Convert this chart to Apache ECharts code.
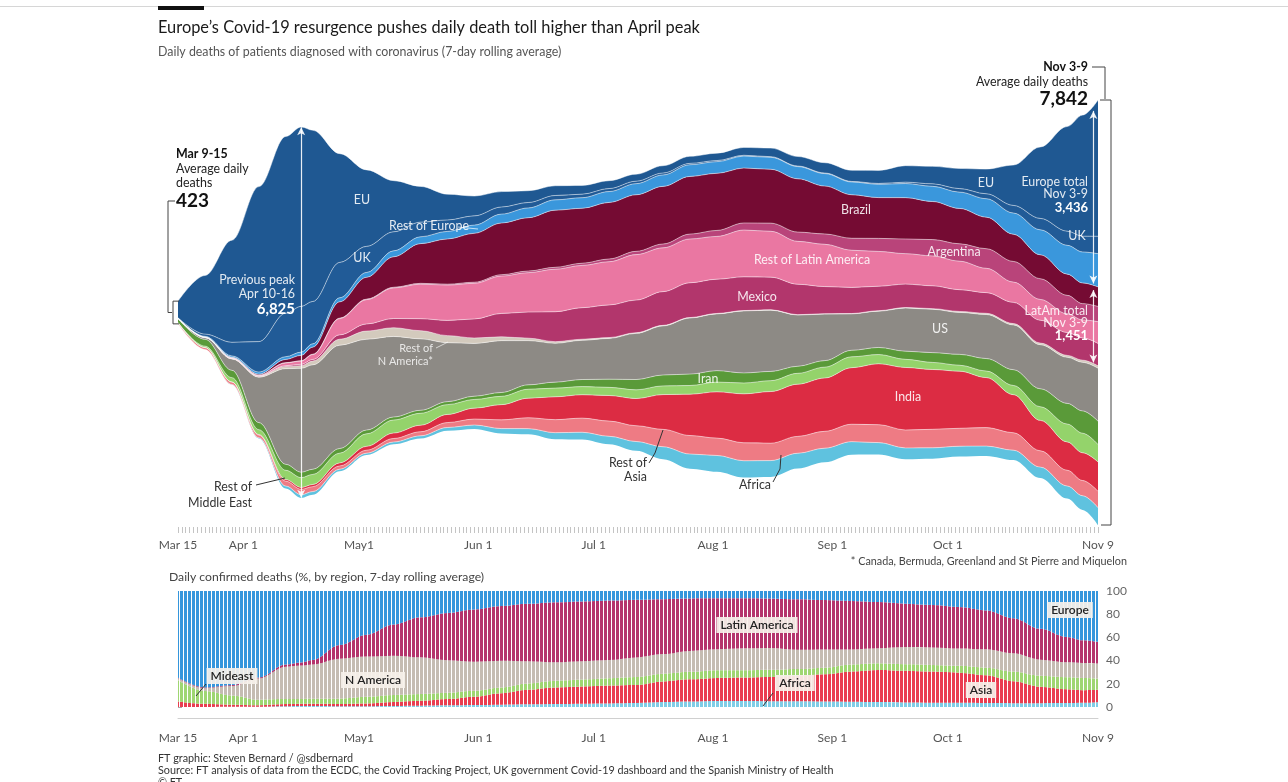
<!DOCTYPE html>
<html>
<head>
<meta charset="utf-8">
<title>Europe's Covid-19 resurgence</title>
<script src="https://cdn.jsdelivr.net/npm/echarts@6.0.0/dist/echarts.min.js"></script>
<style>
  html, body { margin: 0; padding: 0; background: #fff; }
  #chart { width: 1288px; height: 782px; }
</style>
</head>
<body>
<div id="chart"></div>
<script>
// weekly samples of the 7-day average of daily deaths
const dates = ['2020-03-15', '2020-03-22', '2020-03-29', '2020-04-05', '2020-04-12', '2020-04-16', '2020-04-19', '2020-04-26',
  '2020-05-03', '2020-05-10', '2020-05-17', '2020-05-24', '2020-05-31', '2020-06-07', '2020-06-14', '2020-06-21', '2020-06-28',
  '2020-07-05', '2020-07-12', '2020-07-19', '2020-07-26', '2020-08-02', '2020-08-09', '2020-08-16', '2020-08-23', '2020-08-30',
  '2020-09-06', '2020-09-13', '2020-09-20', '2020-09-27', '2020-10-04', '2020-10-11', '2020-10-18', '2020-10-25', '2020-11-01',
  '2020-11-05', '2020-11-09']

const eu = [305, 1078, 1877, 2850, 3250, 3300, 3150, 2000, 1406, 941, 657, 474, 365, 284, 217, 180, 160, 145, 130, 135, 130, 135, 145, 158, 175, 190, 205, 240, 304, 322, 371, 454, 742, 1313, 1926, 2227, 2506]
const uk = [3, 40, 250, 560, 800, 840, 780, 650, 480, 350, 270, 210, 170, 130, 100, 80, 65, 55, 45, 35, 25, 20, 15, 12, 10, 10, 10, 15, 25, 45, 65, 90, 140, 210, 260, 290, 320]
const restEurope = [5, 15, 25, 40, 50, 60, 60, 75, 90, 110, 125, 140, 150, 165, 180, 190, 195, 200, 205, 210, 215, 215, 220, 220, 225, 230, 235, 245, 260, 280, 300, 340, 390, 460, 530, 570, 610]
const brazil = [0, 2, 10, 20, 60, 100, 130, 300, 400, 560, 730, 830, 900, 950, 980, 1050, 1010, 1040, 1040, 1060, 1060, 1050, 1010, 990, 980, 880, 800, 750, 760, 700, 650, 580, 500, 440, 390, 380, 360]
const argentina = [0, 0, 1, 2, 4, 5, 6, 8, 10, 12, 15, 17, 20, 25, 30, 35, 40, 50, 60, 70, 90, 110, 130, 150, 170, 190, 220, 240, 270, 300, 320, 360, 380, 380, 340, 300, 280]
const restLatam = [1, 4, 13, 12, 51, 60, 90, 300, 448, 562, 636, 650, 656, 687, 725, 783, 778, 796, 836, 806, 806, 787, 861, 844, 789, 778, 684, 640, 560, 550, 524, 448, 373, 383, 344, 330, 401]
const mexico = [0, 1, 3, 6, 15, 25, 30, 80, 130, 170, 220, 280, 350, 430, 480, 550, 580, 600, 600, 620, 640, 630, 620, 600, 560, 500, 480, 450, 430, 420, 400, 380, 390, 420, 420, 410, 410]
const restNAmerica = [0, 1, 5, 15, 40, 50, 70, 110, 150, 160, 150, 130, 100, 70, 45, 30, 20, 15, 12, 10, 8, 8, 6, 6, 6, 6, 6, 8, 10, 12, 18, 22, 25, 30, 35, 40, 45]
const us = [8, 33, 208, 835, 1760, 1910, 1920, 1900, 1670, 1482, 1314, 1084, 970, 954, 814, 714, 721, 750, 849, 903, 1031, 1044, 1141, 1127, 942, 856, 670, 668, 793, 797, 771, 810, 823, 811, 848, 893, 974]
const iran = [70, 125, 135, 130, 110, 100, 95, 85, 70, 55, 55, 55, 60, 70, 80, 110, 130, 150, 190, 200, 210, 210, 185, 170, 130, 120, 120, 130, 150, 180, 200, 230, 290, 330, 380, 410, 430]
const restMidEast = [6, 25, 78, 90, 170, 180, 185, 180, 230, 240, 220, 180, 160, 153, 165, 160, 150, 150, 160, 160, 160, 180, 200, 200, 200, 200, 200, 170, 150, 130, 110, 120, 170, 250, 330, 360, 320]
const india = [0, 2, 4, 10, 30, 35, 40, 55, 70, 100, 120, 150, 200, 280, 360, 420, 430, 470, 500, 640, 760, 850, 900, 950, 960, 980, 1040, 1120, 1150, 1100, 1050, 920, 700, 560, 520, 510, 540]
const restAsia = [20, 35, 44, 50, 90, 100, 90, 60, 55, 65, 75, 90, 110, 160, 200, 240, 260, 280, 290, 320, 340, 320, 330, 320, 310, 310, 320, 330, 330, 340, 330, 340, 320, 300, 290, 280, 300]
const africa = [0, 0, 5, 10, 45, 60, 60, 40, 36, 43, 50, 61, 73, 89, 104, 121, 134, 148, 172, 230, 270, 300, 310, 300, 280, 260, 240, 220, 210, 200, 190, 180, 180, 200, 230, 260, 320]

// axis labels
const tickDates = ['2020-03-15', '2020-04-01', '2020-05-01', '2020-06-01', '2020-07-01', '2020-08-01', '2020-09-01', '2020-10-01', '2020-11-09']
const tickLabels = ['Mar 15', 'Apr 1', 'May1', 'Jun 1', 'Jul 1', 'Aug 1', 'Sep 1', 'Oct 1', 'Nov 9']
const pctTicks = [0, 20, 40, 60, 80, 100]

const font = 'Lato, "Noto Sans", sans-serif'
const DAY = 864e5
const ts = dates.map(s => Date.parse(s))
const firstTs = ts[0]
const lastTs = Date.parse(tickDates[tickDates.length - 1])
const dayOf = s => Math.round((Date.parse(s) - firstTs) / DAY)
const lastDay = dayOf(tickDates[tickDates.length - 1])
const tickDays = tickDates.map(dayOf)
const allDays = []
for (let d = 0; d <= lastDay; d++) allDays.push(d)

// stream layers, bottom to top
const layers = [
  { name: 'Africa', data: africa, color: '#5fc2df' },
  { name: 'Rest of Asia', data: restAsia, color: '#ee7b84' },
  { name: 'India', data: india, color: '#dc2c43' },
  { name: 'Rest of Middle East', data: restMidEast, color: '#94d36b' },
  { name: 'Iran', data: iran, color: '#5a9a39' },
  { name: 'US', data: us, color: '#8d8a85' },
  { name: 'Rest of N America', data: restNAmerica, color: '#d3cabd' },
  { name: 'Mexico', data: mexico, color: '#b2366c' },
  { name: 'Rest of Latin America', data: restLatam, color: '#ea77a2' },
  { name: 'Argentina', data: argentina, color: '#b9447a' },
  { name: 'Brazil', data: brazil, color: '#750b33' },
  { name: 'Rest of Europe', data: restEurope, color: '#3a97dc' },
  { name: 'UK', data: uk, color: '#215b97' },
  { name: 'EU', data: eu, color: '#1f5892' }
]

// regions for the percentage chart, bottom to top
const regions = [
  { name: 'Africa', parts: [africa], color: '#7fcde6' },
  { name: 'Asia', parts: [india, restAsia], color: '#ea3d50' },
  { name: 'Mideast', parts: [iran, restMidEast], color: '#9fd672' },
  { name: 'N America', parts: [us, restNAmerica], color: '#c5bcb2' },
  { name: 'Latin America', parts: [mexico, restLatam, argentina, brazil], color: '#b5346c' },
  { name: 'Europe', parts: [restEurope, uk, eu], color: '#3596dc' }
]

const total = dates.map((d, i) => layers.reduce((s, l) => s + l.data[i], 0))
const maxTotal = Math.max(...total)
// centre the stream (silhouette baseline)
const baseline = total.map(t => (maxTotal - t) / 2)

const iPeak = dates.indexOf('2020-04-16')
const iLast = dates.length - 1
const europeLast = eu[iLast] + uk[iLast] + restEurope[iLast]
const latamLast = brazil[iLast] + argentina[iLast] + restLatam[iLast] + mexico[iLast]

function stripes (color) {
  const c = document.createElement('canvas')
  c.width = 4
  c.height = 4
  const g = c.getContext('2d')
  g.fillStyle = '#fff'
  g.fillRect(0, 0, 4, 4)
  g.fillStyle = color
  g.fillRect(0, 0, 3, 4)
  return { image: c, repeat: 'repeat' }
}

const series = [{
  name: 'base',
  type: 'line',
  stack: 'stream',
  xAxisIndex: 0,
  yAxisIndex: 0,
  data: baseline.map((v, i) => [ts[i], v]),
  symbol: 'none',
  smooth: 0.35,
  smoothMonotone: 'x',
  lineStyle: { width: 0, opacity: 0 },
  silent: true,
  z: 1
}]

layers.forEach(l => {
  series.push({
    name: l.name,
    type: 'line',
    stack: 'stream',
    xAxisIndex: 0,
    yAxisIndex: 0,
    data: l.data.map((v, i) => [ts[i], v]),
    symbol: 'none',
    smooth: 0.35,
    smoothMonotone: 'x',
    lineStyle: { color: 'rgba(255,255,255,0.6)', width: 0.8 },
    areaStyle: { color: l.color, opacity: 1 },
    silent: true,
    z: 2
  })
})

// white arrows: April peak and the Nov 3-9 totals
const topSeries = series[series.length - 1]
const arrowTs = lastTs - 1.2 * DAY
topSeries.markLine = {
  silent: true,
  symbol: ['arrow', 'arrow'],
  symbolSize: [6, 8],
  label: { show: false },
  lineStyle: { color: '#ffffff', width: 1.2, type: 'solid', opacity: 0.9 },
  data: [
    [{ coord: [ts[iPeak], baseline[iPeak] + 5] }, { coord: [ts[iPeak], baseline[iPeak] + total[iPeak] - 5] }],
    [{ coord: [arrowTs, maxTotal - 200] }, { coord: [arrowTs, maxTotal - europeLast + 60] }],
    [{ coord: [arrowTs, maxTotal - europeLast - 60] }, { coord: [arrowTs, maxTotal - europeLast - latamLast + 60] }]
  ]
}

regions.forEach(r => {
  series.push({
    name: r.name,
    type: 'line',
    stack: 'share',
    xAxisIndex: 1,
    yAxisIndex: 1,
    data: dates.map((d, i) => [ts[i], r.parts.reduce((s, p) => s + p[i], 0) / total[i] * 100]),
    symbol: 'none',
    smooth: 0.35,
    smoothMonotone: 'x',
    lineStyle: { width: 0 },
    areaStyle: { color: stripes(r.color), opacity: 1 },
    silent: true
  })
})

const xLabel = {
  customValues: tickDays,
  formatter: v => tickLabels[tickDays.indexOf(+v)] || '',
  color: '#555',
  fontFamily: font,
  fontSize: 12,
  showMinLabel: true,
  showMaxLabel: true,
  hideOverlap: false
}

const option = {
  animation: false,
  backgroundColor: '#fff',
  grid: [
    { left: 178, right: 190, top: 100, height: 425, containLabel: false, outerBoundsMode: 'none' },
    { left: 178, right: 190, top: 591, height: 116, containLabel: false, outerBoundsMode: 'none' }
  ],
  xAxis: [
    // time axes carry the series, day axes draw ticks and labels
    { type: 'time', gridIndex: 0, position: 'bottom', min: firstTs, max: lastTs, show: false },
    { type: 'time', gridIndex: 1, position: 'bottom', min: firstTs, max: lastTs, show: false },
    {
      type: 'value',
      gridIndex: 0,
      position: 'bottom',
      min: 0,
      max: lastDay,
      offset: 2,
      axisLine: { show: false },
      axisTick: { show: true, customValues: allDays, length: 6, lineStyle: { color: '#c4c4c4', width: 1 } },
      splitLine: { show: false },
      axisLabel: Object.assign({ margin: 12 }, xLabel)
    },
    {
      type: 'value',
      gridIndex: 1,
      position: 'bottom',
      min: 0,
      max: lastDay,
      offset: 11,
      axisLine: { show: true, lineStyle: { color: '#d0d0d0', width: 1 } },
      axisTick: { show: false },
      splitLine: { show: false },
      axisLabel: Object.assign({ margin: 14 }, xLabel)
    }
  ],
  yAxis: [
    { type: 'value', gridIndex: 0, min: 0, max: maxTotal, show: false },
    {
      type: 'value',
      gridIndex: 1,
      position: 'right',
      min: 0,
      max: 100,
      interval: 20,
      offset: 2,
      axisLine: { show: false },
      axisTick: { show: true, length: 4, lineStyle: { color: '#aaa' } },
      splitLine: { show: false },
      axisLabel: { color: '#666', fontFamily: font, fontSize: 12, margin: 6, customValues: pctTicks }
    }
  ],
  series: series
}

const chart = echarts.init(document.getElementById('chart'), null, { renderer: 'canvas' })
chart.setOption(option)

// annotations
const px = (x, y) => chart.convertToPixel({ xAxisIndex: 0, yAxisIndex: 0 }, [x, y])

function txt (x, y, text, o) {
  return {
    type: 'text',
    x: x,
    y: y,
    silent: true,
    z: 100,
    style: Object.assign({
      text: text,
      fill: '#333',
      font: '12.4px ' + font,
      textAlign: 'left',
      textVerticalAlign: 'middle',
      verticalAlign: 'middle'
    }, o || {})
  }
}
function line (points, color, w) {
  return {
    type: 'polyline',
    silent: true,
    z: 100,
    shape: { points: points },
    style: { stroke: color || '#333', fill: null, lineWidth: w || 1 }
  }
}
function boxLabel (x, y, text) {
  return txt(x, y, text, {
    textAlign: 'center',
    fill: '#222',
    font: '600 12px ' + font,
    backgroundColor: 'rgba(246,241,234,0.92)',
    padding: [2, 4]
  })
}

const wt = 'rgba(255,255,255,0.88)'
const firstTop = px(firstTs, baseline[0] + total[0])
const firstBot = px(firstTs, baseline[0])
const lastTop = px(lastTs, maxTotal)
const lastBot = px(lastTs, 0)

const graphics = [
  // header
  { type: 'rect', silent: true, shape: { x: 0, y: 6, width: 1288, height: 1 }, style: { fill: '#d6d6d6' } },
  { type: 'rect', silent: true, shape: { x: 158, y: 6, width: 46, height: 4 }, style: { fill: '#111' } },
  txt(158, 28, 'Europe\u2019s Covid-19 resurgence pushes daily death toll higher than April peak', { font: '16.4px ' + font, fill: '#1a1a1a' }),
  txt(158, 52, 'Daily deaths of patients diagnosed with coronavirus (7-day rolling average)', { font: '12.4px ' + font, fill: '#555' }),

  // left note
  txt(176, 154, 'Mar 9-15', { font: 'bold 12.4px ' + font, fill: '#111' }),
  txt(176, 169, 'Average daily', { fill: '#222' }),
  txt(176, 183, 'deaths', { fill: '#222' }),
  txt(176, 201, '423', { font: 'bold 19px ' + font, fill: '#111' }),
  line([[175, 201], [168, 201], [168, (firstTop[1] + firstBot[1]) / 2], [172, (firstTop[1] + firstBot[1]) / 2]], '#444', 1),
  line([[179, firstTop[1]], [173, firstTop[1]], [173, firstBot[1]], [179, firstBot[1]]], '#444', 1),

  // right note
  txt(1088, 67, 'Nov 3-9', { font: 'bold 12.4px ' + font, fill: '#111', textAlign: 'right' }),
  txt(1088, 82, 'Average daily deaths', { fill: '#222', textAlign: 'right' }),
  txt(1088, 99, '7,842', { font: 'bold 19px ' + font, fill: '#111', textAlign: 'right' }),
  line([[1092, 67], [1105, 67], [1105, lastTop[1] - 1]], '#444', 1),
  line([[1100, lastTop[1]], [1111, lastTop[1]], [1111, lastBot[1]], [1101, lastBot[1]]], '#444', 1),

  // labels inside the stream
  txt(362, 200, 'EU', { fill: wt, textAlign: 'center' }),
  txt(429, 226, 'Rest of Europe', { fill: wt, textAlign: 'center' }),
  line([[458, 227], [478, 229]], wt, 0.8),
  txt(362, 258, 'UK', { fill: wt, textAlign: 'center' }),
  txt(295, 280, 'Previous peak', { fill: wt, textAlign: 'right' }),
  txt(295, 294, 'Apr 10-16', { fill: wt, textAlign: 'right' }),
  txt(295, 309, '6,825', { fill: '#fff', textAlign: 'right', font: 'bold 15px ' + font }),
  txt(433, 348, 'Rest of', { fill: 'rgba(255,255,255,0.8)', textAlign: 'right', font: '11px ' + font }),
  txt(433, 361, 'N America*', { fill: 'rgba(255,255,255,0.8)', textAlign: 'right', font: '11px ' + font }),
  line([[436, 348], [448, 342]], 'rgba(255,255,255,0.8)', 0.8),
  txt(856, 210, 'Brazil', { fill: wt, textAlign: 'center' }),
  txt(812, 260, 'Rest of Latin America', { fill: wt, textAlign: 'center' }),
  txt(954, 252, 'Argentina', { fill: wt, textAlign: 'center' }),
  txt(757, 297, 'Mexico', { fill: wt, textAlign: 'center' }),
  txt(986, 183, 'EU', { fill: wt, textAlign: 'center' }),
  txt(1088, 182, 'Europe total', { fill: wt, textAlign: 'right' }),
  txt(1088, 194, 'Nov 3-9', { fill: wt, textAlign: 'right' }),
  txt(1088, 208, '3,436', { fill: '#fff', textAlign: 'right', font: 'bold 13px ' + font }),
  txt(1077, 236, 'UK', { fill: wt, textAlign: 'center' }),
  txt(1088, 311, 'LatAm total', { fill: wt, textAlign: 'right' }),
  txt(1088, 323, 'Nov 3-9', { fill: wt, textAlign: 'right' }),
  txt(1088, 336, '1,451', { fill: '#fff', textAlign: 'right', font: 'bold 13px ' + font }),
  txt(940, 329, 'US', { fill: wt, textAlign: 'center' }),
  txt(708, 379, 'Iran', { fill: wt, textAlign: 'center' }),
  txt(908, 397, 'India', { fill: wt, textAlign: 'center' }),

  // labels below the stream
  txt(647, 463, 'Rest of', { textAlign: 'right' }),
  txt(647, 477, 'Asia', { textAlign: 'right' }),
  line([[649, 463], [655, 453], [663, 430]], '#333', 1),
  txt(771, 485, 'Africa', { textAlign: 'right' }),
  line([[773, 482], [780, 469], [781, 455]], '#333', 1),
  txt(252, 487, 'Rest of', { textAlign: 'right' }),
  txt(252, 503, 'Middle East', { textAlign: 'right' }),
  line([[256, 485], [285, 478]], '#333', 1),

  txt(1127, 562, '* Canada, Bermuda, Greenland and St Pierre and Miquelon', { font: '10.8px ' + font, fill: '#444', textAlign: 'right' }),

  // percentage chart
  txt(169, 577, 'Daily confirmed deaths (%, by region, 7-day rolling average)', { font: '12.2px ' + font, fill: '#444' }),
  boxLabel(232, 676, 'Mideast'),
  line([[196, 696], [206, 684]], '#333', 1),
  boxLabel(373, 680, 'N America'),
  boxLabel(757, 625, 'Latin America'),
  boxLabel(1070, 610, 'Europe'),
  boxLabel(795, 683, 'Africa'),
  line([[763, 706], [773, 693]], '#333', 1),
  boxLabel(981, 690, 'Asia'),

  // footer
  txt(158, 759, 'FT graphic: Steven Bernard / @sdbernard', { font: '10.8px ' + font, fill: '#333' }),
  txt(158, 771, 'Source: FT analysis of data from the ECDC, the Covid Tracking Project, UK government Covid-19 dashboard and the Spanish Ministry of Health', { font: '10.8px ' + font, fill: '#333' }),
  txt(158, 783, '\u00a9 FT', { font: '10.8px ' + font, fill: '#333' })
]

chart.setOption({ graphic: graphics })
</script>
</body>
</html>
